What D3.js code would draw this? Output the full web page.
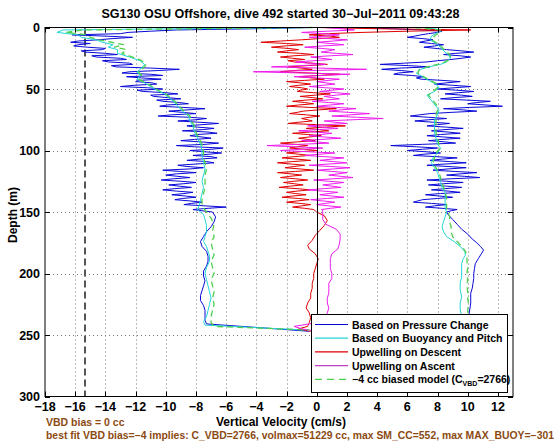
<!DOCTYPE html>
<html><head><meta charset="utf-8">
<script src="https://cdn.jsdelivr.net/npm/d3@7"></script>
<style>
html,body{margin:0;padding:0;background:#fff;}
svg{display:block;}
text{font-family:"Liberation Sans",Arial,Helvetica,sans-serif;font-weight:bold;}
</style></head>
<body>
<svg id="chart" width="560" height="442"></svg>
<script>
// ---------- data ----------
const xTicks = [-18,-16,-14,-12,-10,-8,-6,-4,-2,0,2,4,6,8,10,12];
const yTicks = [0,50,100,150,200,250,300];
const biasLineX = -15.35;

const depthFine = [0,1,2,3,4,5,6,7,8,9,10,11,12,13,14,15,16,17,18,19,20,21,22,23,24,25,26,27,28,29,30,31,32,33,34,35,36,37,38,39,40,41,42,43,44,45,46,47,48,49,50,51,52,53,54,55,56,57,58,59,60,61,62,63,64,65,66,67,68,69,70,71,72,73,74,75,76,77,78,79,80,81,82,83,84,85,86,87,88,89,90,91,92,93,94,95,96,97,98,99,100,101,102,103,104,105,106,107,108,109,110,111,112,113,114,115,116,117,118,119,120,121,122,123,124,125,126,127,128,129,130,131,132,133,134,135,136,137,138,139,140,141,142,143,144,145,146,147,148,149,150];

const blueDescentFine = [
 -0.3,-4.0,-9.3,-11.0,-12.5,-13.0,-16.2,-14.0,-12.2,-13.5,
 -14.5,-15.8,-16.3,-15.0,-15.8,-16.1,-15.2,-14.0,-14.2,-15.6,
 -15.3,-14.0,-13.2,-14.9,-14.6,-13.0,-12.6,-14.2,-13.8,-12.4,
 -12.2,-13.6,-13.3,-11.0,-9.1,-10.5,-12.4,-12.9,-11.0,-10.2,
 -12.6,-11.6,-10.3,-11.8,-12.0,-10.9,-10.6,-12.1,-13.0,-11.2,
 -10.2,-11.9,-11.5,-10.0,-9.2,-11.0,-10.8,-9.9,-9.0,-10.6,
 -10.2,-9.1,-8.5,-9.9,-10.4,-8.8,-7.4,-8.6,-9.8,-8.9,
 -8.0,-9.6,-10.5,-8.4,-7.3,-8.0,-9.2,-7.8,-6.5,-7.6,
 -8.6,-7.9,-6.8,-7.5,-8.9,-7.2,-6.6,-7.9,-8.4,-7.6,
 -7.0,-8.1,-9.0,-7.7,-6.5,-7.4,-9.3,-8.1,-6.2,-7.0,
 -8.4,-7.5,-6.3,-7.1,-8.2,-7.0,-6.6,-7.8,-8.6,-7.3,
 -6.8,-8.0,-9.2,-8.6,-7.5,-8.4,-10.2,-9.1,-8.0,-9.3,
 -10.0,-9.2,-8.4,-9.5,-10.3,-9.0,-8.0,-8.8,-9.8,-9.1,
 -8.3,-9.4,-10.2,-9.3,-8.2,-8.8,-9.6,-8.7,-8.0,-8.9,
 -9.4,-8.4,-7.6,-8.3,-8.8,-7.4,-6.0,-7.2,-8.2,-7.6,
 -6.9];
const blueDescentDeep = [[154,-6.7],[158,-6.8],[162,-7.0],[166,-7.3],[170,-7.5],[174,-7.7],[178,-7.6],[182,-7.3],[186,-7.2],[190,-7.2],[194,-7.3],[198,-7.5],[202,-7.5],[206,-7.4],[210,-7.5],[214,-7.6],[218,-7.7],[222,-7.7],[226,-7.5],[230,-7.4],[234,-7.4],[238,-7.4],[241,-7.3],[244,-3.8],[247,-0.5]];

const blueAscentFine = [
 2.5,5.0,7.0,8.3,8.0,7.4,6.9,6.5,6.0,7.0,
 7.7,7.2,6.8,7.6,8.4,7.8,7.1,7.9,8.6,9.6,
 10.4,9.2,8.4,9.5,10.2,9.6,8.9,8.0,7.3,5.8,
 4.2,6.1,7.5,5.5,4.3,5.6,6.4,5.4,5.1,6.3,
 7.1,6.6,6.9,8.3,9.5,8.6,7.8,9.0,10.2,9.1,
 8.0,9.3,10.4,9.4,8.5,9.6,10.3,9.1,8.2,9.9,
 11.5,10.6,10.0,11.2,12.3,10.1,8.4,9.7,10.6,8.9,
 7.5,6.8,6.2,7.4,8.6,7.4,6.5,7.7,8.8,8.0,
 7.3,8.6,9.7,8.5,7.6,8.7,9.5,8.2,7.3,8.4,
 9.5,8.3,7.4,8.5,9.2,7.0,4.9,6.6,8.0,7.0,
 6.0,7.2,8.2,7.1,6.4,7.9,9.3,8.3,7.5,8.8,
 9.9,8.5,7.3,8.7,9.9,8.7,7.7,9.1,10.6,9.5,
 8.6,9.8,10.8,8.9,7.3,8.6,9.7,8.4,7.4,8.6,
 9.6,8.5,7.6,8.7,9.5,8.2,7.2,8.1,9.0,8.0,
 7.0,6.7,6.4,7.6,8.6,7.8,7.2,8.3,9.3,8.9,
 8.6];
const blueAscentDeep = [[152,8.7],[156,9.0],[160,9.3],[164,9.6],[168,10.0],[172,10.3],[175,10.6],[178,10.85],[181,11.05],[184,10.9],[188,10.7],[192,10.5],[196,10.45],[200,10.4],[204,10.4],[208,10.35],[212,10.3],[216,10.2],[220,10.2],[224,10.2],[228,10.15],[232,10.1],[236,10.1],[240,10.1],[244,10.0],[247,1.0]];

const cyanDescent = [[0,-0.5],[1,-9],[2,-16.8],[4,-17.2],[6,-15.8],[8,-15.6],[10,-14.6],[12,-14.2],[14,-13.5],[16,-13.8],[18,-13.2],[21,-13.2],[24,-12.4],[27,-11.7],[30,-11.4],[33,-11.6],[36,-11.9],[39,-11.7],[42,-11.9],[45,-11.4],[48,-11.0],[51,-10.6],[54,-10.1],[57,-9.8],[60,-9.5],[64,-9.2],[68,-8.9],[72,-8.5],[76,-8.4],[80,-8.2],[85,-8.1],[90,-7.9],[95,-7.7],[100,-7.6],[105,-7.6],[110,-7.5],[115,-7.4],[120,-7.5],[125,-7.6],[130,-7.5],[135,-7.6],[140,-7.7],[145,-7.8],[148,-7.9],[152,-7.5],[156,-7.4],[161,-7.3],[166,-7.3],[170,-7.4],[174,-7.5],[178,-7.3],[182,-7.2],[186,-7.1],[190,-7.1],[195,-7.3],[200,-7.4],[205,-7.3],[210,-7.2],[215,-7.1],[220,-7.0],[225,-7.1],[230,-7.2],[235,-7.3],[239,-7.5],[242,-7.4],[244,-4.0],[246,-0.6]];
const cyanAscent = [[0,7.0],[2,8.4],[4,8.0],[7,7.6],[10,7.5],[13,7.9],[16,8.2],[19,8.4],[22,8.7],[25,8.85],[28,8.6],[30,8.2],[32,7.4],[34,6.9],[37,6.6],[40,7.0],[43,7.4],[46,7.9],[49,8.1],[52,7.8],[55,7.3],[58,7.5],[61,7.7],[64,7.9],[67,8.1],[71,8.0],[75,7.8],[80,7.8],[85,7.8],[90,7.9],[95,8.0],[98,8.2],[102,8.0],[106,7.7],[110,7.6],[114,7.8],[118,8.0],[122,8.1],[126,8.2],[130,8.3],[134,8.5],[138,8.5],[143,8.5],[147,8.5],[150,8.6],[154,8.5],[158,8.4],[162,8.3],[166,8.4],[170,8.6],[174,9.1],[178,9.5],[182,9.8],[185,9.85],[188,9.7],[192,9.6],[197,9.6],[203,9.6],[208,9.5],[213,9.5],[219,9.6],[224,9.5],[229,9.5],[235,9.6],[240,9.6],[244,9.7]];

const greenDescent = [[0,-0.3],[2,-15.5],[4,-16.6],[6,-15.2],[8,-15.0],[10,-14.4],[12,-13.6],[14,-12.8],[16,-13.4],[18,-12.6],[21,-12.9],[24,-12.2],[27,-11.6],[30,-11.3],[33,-11.5],[36,-11.8],[39,-11.6],[42,-11.8],[45,-11.3],[48,-10.9],[51,-10.5],[54,-10.0],[57,-9.7],[60,-9.4],[64,-9.1],[68,-8.8],[72,-8.4],[76,-8.3],[80,-8.1],[85,-8.0],[90,-7.8],[95,-7.6],[100,-7.5],[105,-7.5],[110,-7.4],[115,-7.3],[120,-7.4],[125,-7.4],[130,-7.4],[135,-7.5],[140,-7.6],[145,-7.6],[150,-7.3],[155,-7.0],[160,-6.8],[165,-6.9],[170,-6.8],[175,-7.0],[180,-6.9],[185,-6.8],[190,-7.0],[195,-6.9],[200,-6.8],[205,-7.0],[210,-6.9],[215,-6.8],[220,-6.9],[225,-6.8],[230,-6.9],[235,-7.0],[240,-7.0],[243,-6.8],[246,-0.5]];
const greenAscent = [[0,6.5],[2,8.2],[4,8.1],[7,7.8],[10,7.6],[13,8.0],[16,8.3],[19,8.5],[22,8.8],[25,8.9],[28,8.5],[30,8.0],[32,7.3],[34,6.8],[37,6.7],[40,7.1],[43,7.5],[46,8.0],[49,8.0],[52,7.7],[55,7.4],[58,7.6],[61,7.8],[64,8.0],[67,8.0],[71,7.9],[75,7.9],[80,7.9],[85,7.9],[90,8.0],[95,8.1],[98,8.2],[102,7.9],[106,7.8],[110,7.7],[114,7.9],[118,8.1],[122,8.2],[126,8.3],[130,8.4],[134,8.5],[138,8.6],[143,8.6],[147,8.6],[150,8.7],[154,8.8],[158,8.8],[162,8.9],[166,8.9],[170,9.0],[174,9.3],[178,9.6],[182,9.85],[186,9.95],[190,9.95],[195,10.0],[200,9.95],[205,10.0],[210,9.95],[215,10.0],[220,10.0],[225,10.05],[230,10.0],[235,10.05],[240,10.0]];

const redDescentFine = [
 0.0,4.0,10.2,6.0,3.0,0.8,-0.5,0.9,1.5,0.2,
 -1.0,-2.4,-3.7,-2.0,-0.9,-2.1,-3.0,-1.9,-1.2,-2.0,
 -2.6,-1.1,-0.2,-1.5,-2.4,-1.6,-0.8,-1.9,-1.5,-0.3,
 0.7,-0.6,-1.9,-1.0,-0.3,-1.5,-2.4,-0.4,1.5,0.1,
 -1.2,-0.3,0.5,-0.8,-2.0,-1.1,-0.4,-1.2,-1.8,-1.0,
 -0.6,-1.1,-1.3,-0.2,0.9,-0.1,-1.1,-0.3,0.4,-0.7,
 -1.6,-0.8,-0.2,-1.2,-2.0,-0.4,1.3,0.1,-0.9,-1.3,
 -1.8,-0.7,0.2,-0.5,-1.0,-0.6,-0.3,-1.2,-1.9,0.0,
 1.9,0.5,-0.7,0.2,0.8,-0.5,-1.6,-0.6,0.3,-0.5,
 -1.2,-0.6,-0.1,-1.3,-2.4,-1.4,-0.6,-1.3,-1.8,-0.8,
 0.0,-1.1,-2.0,-1.2,-0.5,-1.5,-2.3,-1.3,-0.4,-1.6,
 -2.6,-1.7,-0.8,-1.5,-2.1,-1.1,-0.2,-1.4,-2.6,-1.7,
 -1.0,-1.8,-2.4,-1.4,-0.6,-1.5,-2.2,-1.5,-0.9,-1.8,
 -2.5,-1.3,-0.4,-1.3,-2.0,-1.4,-0.7,-1.6,-2.3,-1.2,
 -0.5,-1.3,-2.0,-1.1,-0.4,-1.0,-1.6,-0.8,-0.2,-0.1,
 0.0];
const redDescentDeep = [[153,0.5],[157,0.7],[161,0.5],[165,0.2],[169,-0.1],[173,-0.3],[177,-0.6],[180,-0.5],[184,-0.1],[188,0.1],[192,0.0],[196,-0.1],[200,-0.2],[204,-0.2],[208,-0.3],[212,-0.3],[216,-0.4],[220,-0.4],[224,-0.6],[228,-0.7],[232,-0.5],[236,-0.4],[240,-0.5],[243,-0.6],[245,-1.2],[247,-0.4]];

const magentaAscentFine = [
 0.5,1.6,2.5,0.7,-1.0,0.4,1.5,0.6,-0.5,0.8,
 2.0,1.1,0.0,0.9,1.8,0.4,-0.8,0.3,1.2,0.8,
 0.3,1.3,2.4,0.9,-0.4,0.3,1.0,-0.2,-1.4,-0.4,
 0.6,-1.1,-3.0,0.2,3.3,-0.5,-4.2,-1.0,2.2,0.4,
 -1.5,0.0,1.5,0.8,0.0,0.6,1.2,0.4,-0.5,0.6,
 1.8,1.0,0.2,1.3,2.2,1.3,0.5,1.0,1.5,0.6,
 -0.3,0.8,1.8,0.9,0.0,1.3,2.6,1.6,0.8,2.1,
 3.5,2.2,1.0,2.7,4.4,2.4,0.5,1.2,2.0,0.7,
 -0.6,0.4,1.4,0.1,-1.2,-0.1,1.0,0.3,-0.5,0.5,
 1.6,0.3,-1.0,0.0,0.8,-1.2,-3.3,-1.4,0.4,-1.0,
 -2.4,-0.6,1.2,0.2,-0.8,0.5,1.8,1.0,0.2,1.1,
 2.0,0.8,-0.5,0.9,2.2,1.1,0.0,1.0,2.0,1.4,
 0.8,1.6,2.4,1.1,-0.2,0.8,1.8,1.1,0.4,1.0,
 1.6,0.5,-0.6,0.4,1.4,0.8,0.2,1.0,1.8,0.7,
 -0.4,0.4,1.2,0.6,0.0,0.8,1.6,0.9,0.3,0.4,
 0.4];
const magentaAscentDeep = [[152,0.4],[156,0.4],[160,0.6],[164,1.3],[168,1.55],[172,1.55],[176,1.5],[180,1.4],[184,1.0],[188,0.9],[192,0.9],[196,0.9],[200,1.0],[204,1.0],[208,0.8],[212,0.8],[216,0.8],[220,0.7],[224,0.7],[228,0.8],[232,0.7],[236,0.6],[239,0.2],[241,-0.5],[243,-1.5],[245,-1.0],[247,0.0]];

const legendLabels = ["Based on Pressure Change","Based on Buoyancy and Pitch","Upwelling on Descent","Upwelling on Ascent","biased"];
const titleText = "SG130 OSU Offshore, dive 492 started 30\u2212Jul\u22122011 09:43:28";
const note1 = "VBD bias = 0 cc";
const note2 = "best fit VBD bias=\u22124 implies: C_VBD=2766, volmax=51229 cc, max SM_CC=552, max MAX_BUOY=\u2212301";

// ---------- layout ----------
const L = 45, R = 513, T = 27.5, B = 396.5;
const x = d3.scaleLinear().domain([-18, 13]).range([L, R]);
const y = d3.scaleLinear().domain([0, 300]).range([T, B]);
const svg = d3.select("#chart");
const fmt = v => (v < 0 ? "\u2212" + Math.abs(v) : String(v));

const colors = {blue:"#0808d8", cyan:"#22d6d6", red:"#e00000", magenta:"#ee1cee", green:"#4fcf4f"};

// grid
const grid = svg.append("g").attr("stroke","#7a7a7a").attr("stroke-width",1).attr("stroke-dasharray","1,3");
grid.selectAll("line.gx").data(xTicks.filter(t => t > -18)).join("line")
  .attr("x1", d => Math.round(x(d)) + 0.5).attr("x2", d => Math.round(x(d)) + 0.5)
  .attr("y1", T).attr("y2", B);
grid.selectAll("line.gy").data(yTicks.filter(t => t > 0 && t < 300)).join("line")
  .attr("y1", d => Math.round(y(d)) + 0.5).attr("y2", d => Math.round(y(d)) + 0.5)
  .attr("x1", L).attr("x2", R);

// bias dashed line
svg.append("line").attr("x1", x(biasLineX)).attr("x2", x(biasLineX)).attr("y1", T).attr("y2", B)
  .attr("stroke","#555").attr("stroke-width",2).attr("stroke-dasharray","7,4");

const line = d3.line().x(d => x(d[1])).y(d => y(d[0]));
const fine = arr => depthFine.map((d, i) => [d, arr[i]]);

function draw(data, color, dash) {
  svg.append("path").datum(data).attr("d", line).attr("fill","none")
    .attr("stroke", color).attr("stroke-width", dash ? 1.3 : 1)
    .attr("stroke-dasharray", dash ? "6,4" : null).attr("stroke-linejoin","round");
}
draw(fine(blueDescentFine).concat(blueDescentDeep), colors.blue);
draw(fine(blueAscentFine).concat(blueAscentDeep), colors.blue);
draw(cyanDescent, colors.cyan);
draw(cyanAscent, colors.cyan);
draw(fine(redDescentFine).concat(redDescentDeep), colors.red);
draw(fine(magentaAscentFine).concat(magentaAscentDeep), colors.magenta);
draw(greenDescent, colors.green, true);
draw(greenAscent, colors.green, true);

// zero line
svg.append("line").attr("x1", Math.round(x(0)) + 0.5).attr("x2", Math.round(x(0)) + 0.5).attr("y1", T).attr("y2", B)
  .attr("stroke","#000").attr("stroke-width",1);

// axes box and ticks
svg.append("rect").attr("x", L).attr("y", T).attr("width", R - L).attr("height", B - T)
  .attr("fill","none").attr("stroke","#000").attr("stroke-width",1);
const tk = svg.append("g").attr("stroke","#000").attr("stroke-width",1);
xTicks.forEach(t => {
  const xx = Math.round(x(t)) + 0.5;
  tk.append("line").attr("x1", xx).attr("x2", xx).attr("y1", B).attr("y2", B - 5);
  tk.append("line").attr("x1", xx).attr("x2", xx).attr("y1", T).attr("y2", T + 5);
});
yTicks.forEach(t => {
  const yy = Math.round(y(t)) + 0.5;
  tk.append("line").attr("x1", L).attr("x2", L + 5).attr("y1", yy).attr("y2", yy);
  tk.append("line").attr("x1", R).attr("x2", R - 5).attr("y1", yy).attr("y2", yy);
});

// tick labels
svg.append("g").selectAll("text").data(xTicks).join("text")
  .attr("x", d => x(d)).attr("y", 411).attr("text-anchor","middle")
  .attr("font-size", 12.5).text(fmt);
svg.append("g").selectAll("text").data(yTicks).join("text")
  .attr("x", 40).attr("y", d => y(d) + 4.5).attr("text-anchor","end")
  .attr("font-size", 12.5).text(fmt);

// titles
svg.append("text").attr("x", 280.5).attr("y", 18).attr("text-anchor","middle")
  .attr("font-size", 12).attr("textLength", 358).attr("lengthAdjust","spacingAndGlyphs").text(titleText);
svg.append("text").attr("x", 281).attr("y", 426).attr("text-anchor","middle")
  .attr("font-size", 12).text("Vertical Velocity (cm/s)");
svg.append("text").attr("transform","translate(17,215) rotate(-90)").attr("text-anchor","middle")
  .attr("font-size", 12).text("Depth (m)");
svg.append("text").attr("x", 46).attr("y", 426).attr("fill","#8c4a12")
  .attr("font-size", 10.5).text(note1);
svg.append("text").attr("x", 46).attr("y", 438.5).attr("fill","#8c4a12")
  .attr("font-size", 10).attr("textLength", 508).attr("lengthAdjust","spacingAndGlyphs").text(note2);

// legend
const lg = svg.append("g");
lg.append("rect").attr("x", 311.5).attr("y", 314.5).attr("width", 196).attr("height", 78)
  .attr("fill","#fff").attr("stroke","#000").attr("stroke-width",1);
const legItems = [
  {c: colors.blue, dash: false},
  {c: colors.cyan, dash: false},
  {c: colors.red, dash: false},
  {c: "#c040c0", dash: false},
  {c: colors.green, dash: true}
];
legItems.forEach((it, i) => {
  const yy = 324.5 + i * 13.7;
  lg.append("line").attr("x1", 315).attr("x2", 348).attr("y1", yy).attr("y2", yy)
    .attr("stroke", it.c).attr("stroke-width", it.dash ? 1.3 : 1.2)
    .attr("stroke-dasharray", it.dash ? "7,5" : null);
  const t = lg.append("text").attr("x", 352).attr("y", yy + 4).attr("font-size", 10.5);
  if (i < 4) {
    t.text(legendLabels[i]);
  } else {
    t.append("tspan").text("\u22124 cc biased model (C");
    t.append("tspan").attr("font-size", 7).attr("dy", 3).text("VBD");
    t.append("tspan").attr("dy", -3).text("=2766)");
  }
});
</script>
</body></html>
